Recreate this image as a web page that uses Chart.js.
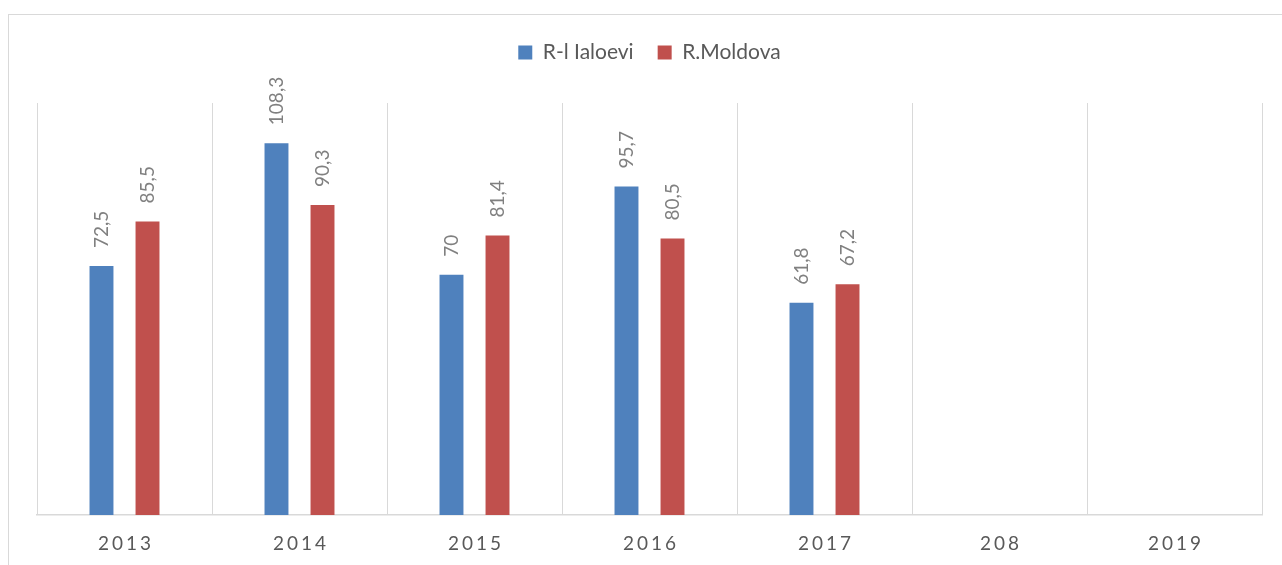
<!DOCTYPE html>
<html>
<head>
<meta charset="utf-8">
<script src="https://cdn.jsdelivr.net/npm/chart.js@4.4.0/dist/chart.umd.min.js"></script>
<style>
	html, body { margin: 0; padding: 0; background: #fff; overflow: hidden; }
	#frame { position: absolute; left: 8px; top: 14px; width: 1300px; height: 600px; border: 1px solid #d9d9d9; }
	#wrap { position: absolute; left: 0; top: 0; width: 1282px; height: 565px; }
</style>
</head>
<body>
<div id="frame"></div>
<div id="wrap"><canvas id="chart"></canvas></div>
<script>

const years = ['2013', '2014', '2015', '2016', '2017', '208', '2019'];
const ialoveni = [72.5, 108.3, 70, 95.7, 61.8, null, null];
const moldova = [85.5, 90.3, 81.4, 80.5, 67.2, null, null];

const FONT = 'Lato, "Open Sans", sans-serif';

// legend sits well above the plot, push the chart area down
const legendGap = {
	id: 'legendGap',
	beforeInit(chart){
		const fit = chart.legend.fit;
		chart.legend.fit = function(){
			fit.bind(chart.legend)();
			this.height = 85;
		};
	}
};

// rotated value labels above each bar
const barLabels = {
	id: 'barLabels',
	afterDatasetsDraw(chart){
		const ctx = chart.ctx;
		ctx.save();
		ctx.font = '19px ' + FONT;
		ctx.fillStyle = '#808080';
		ctx.textAlign = 'left';
		ctx.textBaseline = 'middle';
		chart.data.datasets.forEach((ds, i) => {
			chart.getDatasetMeta(i).data.forEach((bar, j) => {
				let v = ds.data[j];
				if(v === null) return;
				ctx.save();
				ctx.translate(bar.x, bar.y - 18);
				ctx.rotate(-Math.PI / 2);
				ctx.fillText(String(v).replace('.', ','), 0, 0);
				ctx.restore();
			});
		});
		ctx.restore();
	}
};

// category labels with letter spacing
const yearLabels = {
	id: 'yearLabels',
	afterDraw(chart){
		const ctx = chart.ctx;
		const x = chart.scales.x;
		ctx.save();
		ctx.font = '19px ' + FONT;
		ctx.letterSpacing = '3px';
		ctx.fillStyle = '#595959';
		ctx.textAlign = 'left';
		ctx.textBaseline = 'middle';
		years.forEach((y, i) => {
			let w = ctx.measureText(y).width - 3;
			ctx.fillText(y, x.getPixelForValue(i) - w / 2, chart.chartArea.bottom + 29);
		});
		ctx.restore();
	}
};

const ctx = document.getElementById('chart');

new Chart(ctx, {
	type: 'bar',
	data: {
		labels: years,
		datasets: [
			{
				label: 'R-l Ialoevi',
				data: ialoveni,
				backgroundColor: '#4f81bd'
			},
			{
				label: 'R.Moldova',
				data: moldova,
				backgroundColor: '#c0504d'
			}
		]
	},
	options: {
		responsive: true,
		maintainAspectRatio: false,
		animation: false,
		categoryPercentage: 0.526,
		barPercentage: 0.52,
		layout: { padding: { left: 37, right: 20, top: 18, bottom: 50 } },
		plugins: {
			legend: {
				position: 'top',
				labels: {
					boxWidth: 14,
					boxHeight: 14,
					padding: 24,
					color: '#595959',
					font: { family: FONT, size: 21 }
				}
			},
			tooltip: { enabled: false }
		},
		scales: {
			x: {
				grid: { color: '#d9d9d9', lineWidth: 1, drawTicks: false, offset: true },
				border: { color: '#d9d9d9', width: 1.5 },
				ticks: { display: false }
			},
			y: {
				display: false,
				min: 0,
				max: 120
			}
		}
	},
	plugins: [legendGap, barLabels, yearLabels]
});
</script>
</body>
</html>
